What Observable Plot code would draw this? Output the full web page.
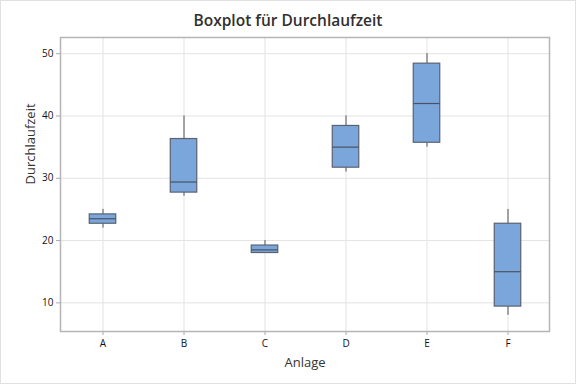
<!DOCTYPE html>
<html>
<head>
<meta charset="utf-8">
<script src="https://cdn.jsdelivr.net/npm/d3@7"></script>
<script src="https://cdn.jsdelivr.net/npm/@observablehq/plot@0.6"></script>
<style>
  html, body { margin: 0; padding: 0; background: #fff; }
  #wrap { width: 576px; height: 384px; box-sizing: border-box; border: 1px solid #e0e0e0; position: relative; overflow: hidden; font-family: "Open Sans", "Noto Sans", sans-serif; }
  #title { height: 31px; line-height: 38px; text-align: center; font-size: 15.5px; font-weight: 600; color: #303030; }
  #chart svg { display: block; }
</style>
</head>
<body>
<div id="wrap">
  <div id="title">Boxplot für Durchlaufzeit</div>
  <div id="chart"></div>
</div>
<script>
const anlagen   = ["A", "B", "C", "D", "E", "F"];
const minima    = [22.0, 27.1, 18.0, 31.0, 35.0, 8.0];
const quartil1  = [22.7, 27.7, 18.0, 31.7, 35.7, 9.4];
const mediane   = [23.5, 29.4, 18.5, 35.0, 42.0, 15.0];
const quartil3  = [24.2, 36.3, 19.2, 38.4, 48.4, 22.7];
const maxima    = [25.0, 40.0, 20.0, 40.0, 50.0, 25.0];
const yTicks    = [10, 20, 30, 40, 50];

const rows = anlagen.map((a, i) => ({
  anlage: a, min: minima[i], q1: quartil1[i], med: mediane[i], q3: quartil3[i], max: maxima[i]
}));

const inset = 27.25;
const chart = Plot.plot({
  width: 574,
  height: 351,
  marginTop: 5,
  marginLeft: 59,
  marginRight: 26,
  marginBottom: 52,
  style: { fontFamily: "'Open Sans', 'Noto Sans', sans-serif", fontSize: "10px", color: "#222", background: "#fff" },
  x: { domain: anlagen, padding: 0, label: null },
  y: { domain: [5.4, 52.6], label: null },
  marks: [
    Plot.gridX(anlagen, { stroke: "#e3e3e3", strokeOpacity: 1, strokeWidth: 1 }),
    Plot.gridY(yTicks, { stroke: "#e3e3e3", strokeOpacity: 1, strokeWidth: 1 }),
    Plot.axisY(yTicks, { tickSize: 4, tickPadding: 3, stroke: "#aaa", fill: "#111", label: null }),
    Plot.axisX({ tickSize: 4, tickPadding: 4, stroke: "#aaa", fill: "#111", label: null }),
    Plot.text(["Durchlaufzeit"], { frameAnchor: "left", dx: -30, rotate: -90, fontSize: 13, fill: "#333" }),
    Plot.text(["Anlage"], { frameAnchor: "bottom", dy: 35, fontSize: 13, fill: "#333" }),
    Plot.frame({ stroke: "#b5b5b5", strokeWidth: 1.5 }),
    Plot.ruleX(rows, { x: "anlage", y1: "min", y2: "q1", stroke: "#555", strokeWidth: 1 }),
    Plot.ruleX(rows, { x: "anlage", y1: "q3", y2: "max", stroke: "#555", strokeWidth: 1 }),
    Plot.rect(rows, { x: "anlage", y1: "q1", y2: "q3", insetLeft: inset, insetRight: inset, fill: "#7ba6db", stroke: "#5a6270", strokeWidth: 1.2 }),
    Plot.tickY(rows, { x: "anlage", y: "med", insetLeft: inset, insetRight: inset, stroke: "#4a5260", strokeWidth: 1.2 })
  ]
});
document.getElementById("chart").appendChild(chart);
</script>
</body>
</html>
